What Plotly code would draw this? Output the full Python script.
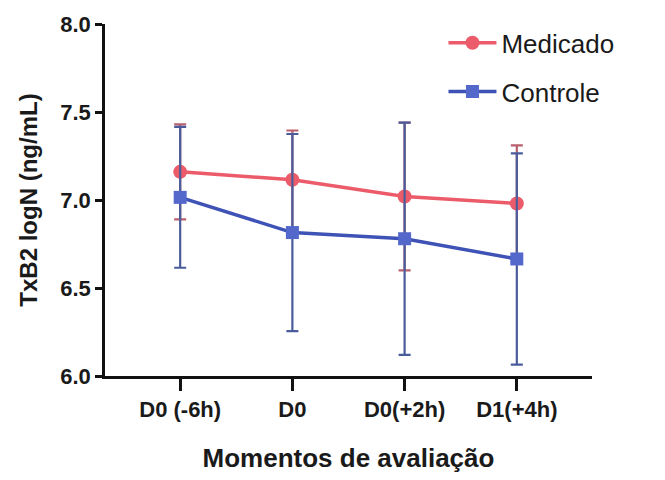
import plotly.graph_objects as go

categories = ["D0 (-6h)", "D0", "D0(+2h)", "D1(+4h)"]
medicado_mean = [7.16, 7.115, 7.02, 6.98]
medicado_err = [0.27, 0.28, 0.42, 0.33]
controle_mean = [7.015, 6.815, 6.78, 6.665]
controle_err = [0.40, 0.56, 0.66, 0.60]
y_ticks = [6.0, 6.5, 7.0, 7.5, 8.0]

RED = "#ec5b6a"
RED_BAR = "#b8606e"
BLUE = "#3f52b5"
BLUE_BAR = "#4a5c9c"
FONT = "Arial, Liberation Sans, sans-serif"

x = list(range(len(categories)))

fig = go.Figure()
fig.add_trace(go.Scatter(
    x=x, y=medicado_mean, name="Medicado", mode="lines+markers",
    line=dict(color=RED, width=3.5),
    marker=dict(symbol="circle", size=14, color=RED),
    error_y=dict(type="data", array=medicado_err, visible=True,
                 color=RED_BAR, thickness=2.2, width=6),
    legendgroup="a", legendrank=1,
))
fig.add_trace(go.Scatter(
    x=x, y=controle_mean, name="Controle", mode="lines+markers",
    line=dict(color=BLUE, width=3.5),
    marker=dict(symbol="square", size=13, color="#5468cc"),
    error_y=dict(type="data", array=controle_err, visible=True,
                 color=BLUE_BAR, thickness=2.2, width=6),
    legendgroup="b", legendrank=2,
))

fig.update_layout(
    width=665, height=480,
    margin=dict(l=105, r=73, t=23, b=102),
    paper_bgcolor="white", plot_bgcolor="white",
    font=dict(family=FONT, color="#1a1a1a"),
    showlegend=True,
    legend=dict(x=0.695, xanchor="left", y=1.013, yanchor="top",
                font=dict(size=26, color="#1a1a1a"),
                bgcolor="rgba(0,0,0,0)",
                traceorder="grouped", tracegroupgap=12,
                itemwidth=48),
    xaxis=dict(
        range=[-0.67, 3.67], tickmode="array", tickvals=x, ticktext=categories,
        showline=True, linecolor="#111", linewidth=2.5,
        ticks="outside", ticklen=12, tickwidth=2.5, tickcolor="#111",
        showgrid=False, zeroline=False,
        tickfont=dict(size=22, family=FONT, color="#1a1a1a", weight="bold"),
        title=dict(text="Momentos de avaliação", standoff=28,
                   font=dict(size=26, family=FONT, color="#1a1a1a", weight="bold")),
    ),
    yaxis=dict(
        range=[6.0, 8.0], tickmode="array", tickvals=y_ticks,
        ticktext=[f"{v:.1f}" for v in y_ticks],
        showline=True, linecolor="#111", linewidth=2.5,
        ticks="outside", ticklen=7, tickwidth=2.5, tickcolor="#111",
        showgrid=False, zeroline=False,
        tickfont=dict(size=22, family=FONT, color="#1a1a1a", weight="bold"),
        title=dict(text="TxB2 logN (ng/mL)", standoff=16,
                   font=dict(size=24, family=FONT, color="#1a1a1a", weight="bold")),
    ),
)

fig.write_html("out.html")
